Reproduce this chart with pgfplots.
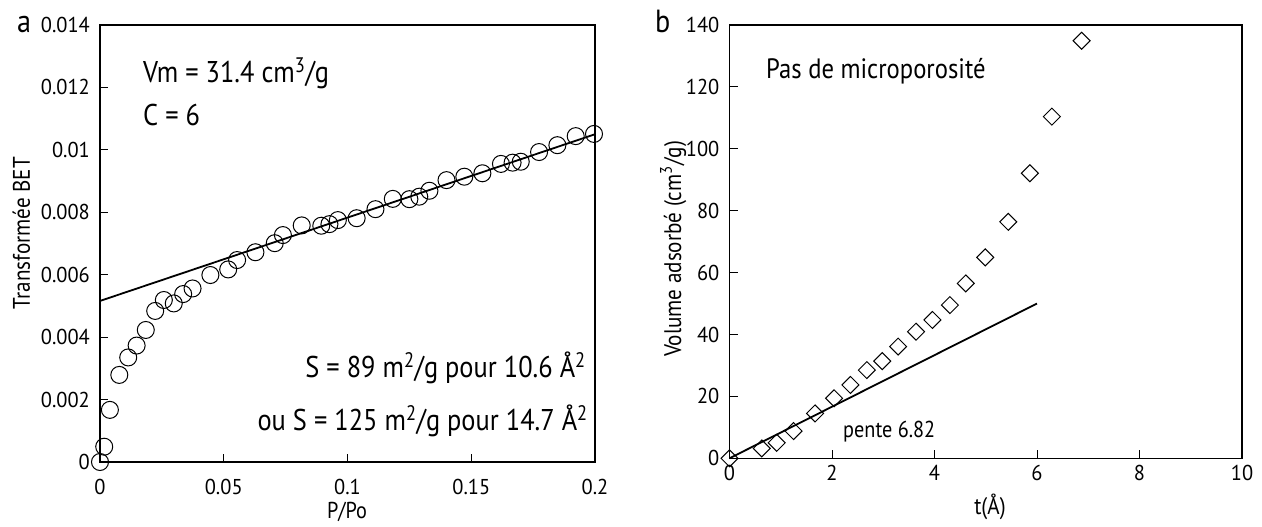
\documentclass[border=0pt]{standalone}
\usepackage{pgfplots}
\pgfplotsset{compat=1.18}
\usepackage{fontspec}
\setmainfont{PT Sans}[FakeStretch=0.88]
\newfontfamily\tickfont{PT Sans}[FakeStretch=0.95]

\pgfplotstableread{
x y
0 0
0.0017 0.00049
0.0040 0.00167
0.0078 0.00279
0.0114 0.00335
0.0148 0.00373
0.0185 0.00423
0.0223 0.00484
0.0258 0.00519
0.0298 0.00508
0.0336 0.00538
0.0374 0.00556
0.0446 0.00599
0.0518 0.00617
0.0554 0.00647
0.0628 0.00672
0.0706 0.00701
0.0739 0.00727
0.0815 0.00758
0.0894 0.00757
0.0927 0.00762
0.0961 0.00775
0.1037 0.00781
0.1113 0.00810
0.1183 0.00843
0.1250 0.00842
0.1290 0.00850
0.1331 0.00869
0.1400 0.00903
0.1472 0.00914
0.1545 0.00925
0.1620 0.00955
0.1667 0.00959
0.1700 0.00962
0.1774 0.00993
0.1848 0.01015
0.1922 0.01044
0.1996 0.01051
}\betdata

\pgfplotstableread{
x y
0 0
0.63 3.2
0.92 5.0
1.25 8.8
1.67 14.5
2.04 19.4
2.36 23.7
2.68 28.5
2.98 31.4
3.29 36.1
3.64 40.9
3.96 44.7
4.30 49.5
4.61 56.5
4.99 64.9
5.44 76.4
5.86 92.1
6.29 110.4
6.87 134.9
}\tdata

\begin{document}
\begin{tikzpicture}
\pgfplotsset{
  myaxis/.style={
    scale only axis,
    clip=false,
    scaled x ticks=false, scaled y ticks=false,
    axis line style={line width=1.3pt},
    tick align=inside,
    xtick pos=left, ytick pos=left,
    major tick length=8pt,
    tick style={line width=1pt, black},
    tick label style={font=\tickfont\fontsize{21.5}{25}\selectfont, inner sep=0pt},
    yticklabel style={anchor=east, xshift=-10pt},
  }
}
\begin{axis}[myaxis,
  at={(100pt,-462pt)}, anchor=south west,
  width=495pt, height=437pt,
  xmin=0, xmax=0.2, ymin=0, ymax=0.014,
  xtick={0,0.05,0.1,0.15,0.2},
  xticklabels={0,0.05,0.1,0.15,0.2},
  ytick={0,0.002,0.004,0.006,0.008,0.01,0.012,0.014},
  yticklabels={0,0.002,0.004,0.006,0.008,0.01,0.012,0.014},
  xticklabel style={anchor=north, yshift=-17pt},
]
\addplot[black, line width=1.8pt, no marks] coordinates {(0,0.00516) (0.2,0.0105)};
\addplot[only marks, mark=o, mark size=8.5pt, mark options={line width=1pt, black}] table {\betdata};
\end{axis}

\begin{axis}[myaxis,
  at={(729.5pt,-458.3pt)}, anchor=south west,
  width=512.5pt, height=433.3pt,
  xmin=0, xmax=10, ymin=0, ymax=140,
  xtick={0,2,4,6,8,10},
  xticklabels={0,2,4,6,8,10},
  ytick={0,20,40,60,80,100,120,140},
  yticklabels={0,20,40,60,80,100,120,140},
  xticklabel style={anchor=north, yshift=-7pt},
]
\addplot[black, line width=1.8pt, no marks] coordinates {(0,0) (6,50)};
\addplot[only marks, mark=square, mark size=6pt, mark options={rotate=45, line width=1pt, black}] table {\tdata};
\end{axis}

% panel letters
\node[anchor=base west, inner sep=0pt, font=\fontsize{32}{36}\selectfont] at (17pt,-33pt) {a};
\node[anchor=base west, inner sep=0pt, font=\fontsize{32}{36}\selectfont] at (655pt,-33pt) {b};

% axis labels
\node[anchor=base, inner sep=0pt, font=\fontsize{23}{27}\selectfont] at (347pt,-518pt) {P/Po};
\node[anchor=base, inner sep=0pt, font=\fontsize{24}{28}\selectfont] at (990pt,-514pt) {t(Å)};
\node[rotate=90, anchor=base, inner sep=0pt, font=\fontsize{24}{28}\selectfont] at (30pt,-233pt) {Transformée BET};
\node[rotate=90, anchor=base, inner sep=0pt, font=\fontsize{24}{28}\selectfont] at (681pt,-249pt) {Volume adsorbé (cm\textsuperscript{3}/g)};

% annotations
\node[anchor=base west, inner sep=0pt, font=\fontsize{30}{34}\selectfont] at (143pt,-82pt) {Vm = 31.4 cm\textsuperscript{3}/g};
\node[anchor=base west, inner sep=0pt, font=\fontsize{30}{34}\selectfont] at (143pt,-125pt) {C = 6};
\node[anchor=base east, inner sep=0pt, font=\fontsize{30}{34}\selectfont] at (586pt,-377pt) {S = 89 m\textsuperscript{2}/g\ pour 10.6 Å\textsuperscript{2}};
\node[anchor=base east, inner sep=0pt, font=\fontsize{30}{34}\selectfont] at (588pt,-430pt) {ou S = 125 m\textsuperscript{2}/g pour 14.7 Å\textsuperscript{2}};
\node[anchor=base west, inner sep=0pt, font=\fontsize{28}{32}\selectfont] at (766pt,-78pt) {Pas de microporosité};
\node[anchor=base west, inner sep=0pt, font=\fontsize{23}{27}\selectfont] at (843pt,-437pt) {pente 6.82};

\pgfresetboundingbox
\path[use as bounding box] (0pt,0pt) rectangle (1262pt,-527pt);
\end{tikzpicture}
\end{document}
